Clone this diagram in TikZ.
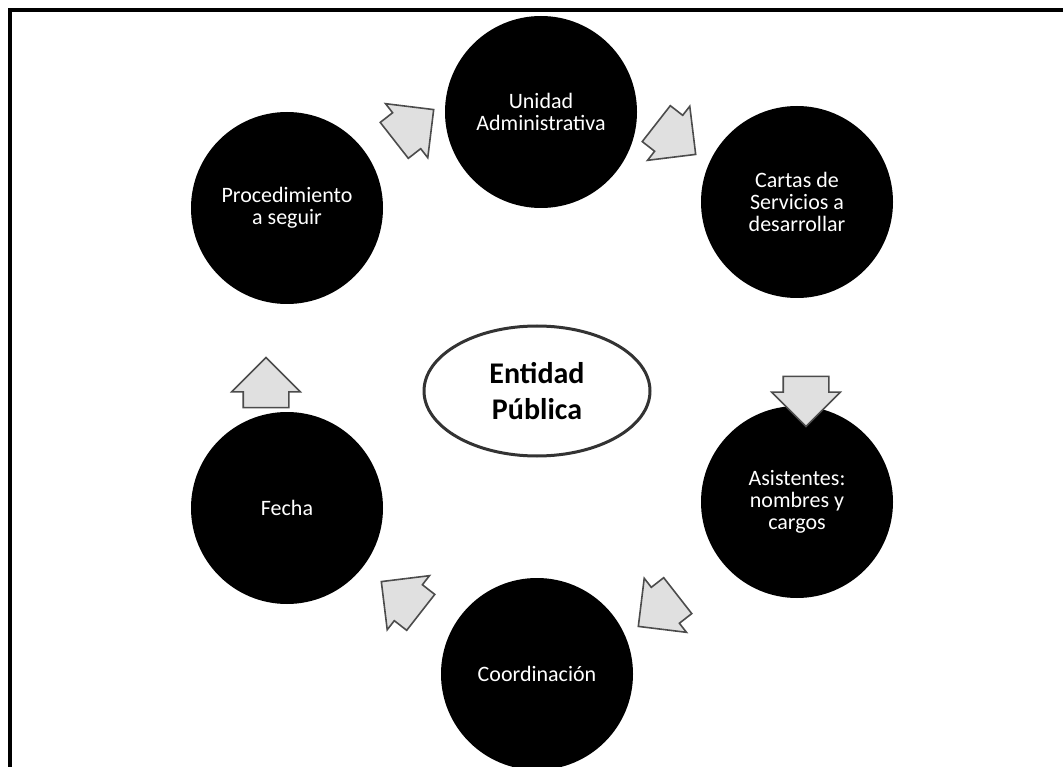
\documentclass[tikz,border=0pt]{standalone}
\usepackage{fontspec}
\setmainfont{Carlito}
\usetikzlibrary{shapes.geometric,shapes.arrows}

\begin{document}
\begin{tikzpicture}[x=1pt, y=-1pt,
	every node/.style={font=\fontsize{22}{22}\selectfont},
	etapa/.style={circle, fill=black, text=white, minimum size=192pt, inner sep=0pt, align=center},
	flecha/.style={single arrow, draw=black!70, fill=black!12, line width=1.6pt, minimum height=50pt, inner xsep=0pt, inner ysep=22pt, single arrow head extend=11.5pt}]
	\useasboundingbox (0,0) rectangle (1063,767);
	% marco
	\draw[line width=3.5pt] (1063,10) -- (10,10) -- (10,767);
	% etapas del ciclo
	\node[etapa] (unidad) at (541,112) {Unidad\\Administrativa};
	\node[etapa] (cartas) at (797,202) {Cartas de\\Servicios a\\desarrollar};
	\node[etapa] (asist) at (797,502) {Asistentes:\\nombres y\\cargos};
	\node[etapa] (coord) at (537,674) {Coordinación};
	\node[etapa] (fecha) at (287,508) {Fecha};
	\node[etapa] (proc) at (287,208) {Procedimiento\\a seguir};
	% centro
	\node[ellipse, draw=black!80, line width=3pt, fill=white, minimum width=226pt, minimum height=130pt, align=center, font=\fontsize{30}{36}\selectfont\bfseries] (entidad) at (537,391) {Entidad\\Pública};
	% flechas
	\node[flecha, rotate=38] (f1) at (405,132) {};
	\node[flecha, rotate=-38] (f2) at (667,132) {};
	\node[flecha, rotate=-90] (f3) at (806,390) {};
	\node[flecha, rotate=-142] (f4) at (667,604) {};
	\node[flecha, rotate=142] (f5) at (410,604) {};
	\node[flecha, rotate=90] (f6) at (266,394) {};
\end{tikzpicture}
\end{document}
